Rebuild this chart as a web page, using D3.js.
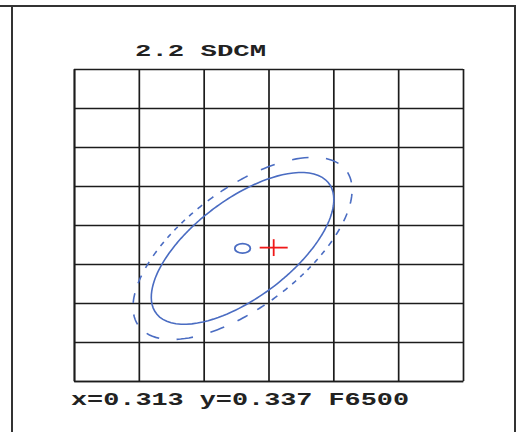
<!DOCTYPE html>
<html>
<head>
<meta charset="utf-8">
<script src="https://cdn.jsdelivr.net/npm/d3@7"></script>
<style>
  body { margin: 0; background: #fff; }
  svg { display: block; }
</style>
</head>
<body>
<div id="chart"></div>
<script>
// grid lines in chromaticity units (0.005 per cell)
const gridX = [0.300, 0.305, 0.310, 0.315, 0.320, 0.325, 0.330];
const gridY = [0.320, 0.325, 0.330, 0.335, 0.340, 0.345, 0.350, 0.355, 0.360];

// F6500 target and its MacAdam metric (g11, g12, g22)
const targetXY = [0.313, 0.337];
const metric = [86e4, -40e4, 45e4];
const solidSteps = [5];
const dashedSteps = [6];

// measured lamp chromaticity
const measuredXY = [0.3154, 0.3371];

const titleText = '2.2 SDCM';
const footText = 'x=0.313 y=0.337 F6500';

const width = 521;
const height = 432;
const margin = { top: 69, right: 58, bottom: 51, left: 74 };
const blue = '#4a6cc2';

const svg = d3.select('#chart')
  .append('svg')
  .attr('width', width)
  .attr('height', height);

// outer frame (top, left, right)
svg.append('path')
  .attr('d', 'M0,6H515V432M12,6V432')
  .attr('fill', 'none')
  .attr('stroke', '#333')
  .attr('stroke-width', 2);

const x = d3.scaleLinear()
  .domain(d3.extent(gridX))
  .range([margin.left, width - margin.right]);

const y = d3.scaleLinear()
  .domain(d3.extent(gridY))
  .range([height - margin.bottom, margin.top]);

const gridW = x.range()[1] - x.range()[0];
const gridH = y.range()[0] - y.range()[1];

// grid from axes with long ticks and no labels
let xGrid = (g) => {
  g.attr('transform', `translate(0,${y.range()[0]})`)
    .call(d3.axisBottom(x).tickValues(gridX).tickSize(-gridH).tickFormat('').tickSizeOuter(0));
};
let yGrid = (g) => {
  g.attr('transform', `translate(${x.range()[0]},0)`)
    .call(d3.axisLeft(y).tickValues(gridY).tickSize(-gridW).tickFormat('').tickSizeOuter(0));
};

svg.append('g').call(xGrid);
svg.append('g').call(yGrid);
svg.selectAll('.tick line, .domain')
  .attr('stroke', '#1c1c1c')
  .attr('stroke-width', 1.7);

// point on the n-step ellipse at polar angle t
let ellipsePoint = (n, t) => {
  const c = Math.cos(t), s = Math.sin(t);
  const q = metric[0] * c * c + 2 * metric[1] * c * s + metric[2] * s * s;
  const r = n / Math.sqrt(q);
  return [targetXY[0] + r * c, targetXY[1] + r * s];
};

const line = d3.line()
  .x(d => x(d[0]))
  .y(d => y(d[1]));

// solid ellipse
solidSteps.forEach(n => {
  const pts = d3.range(0, 361, 2).map(a => ellipsePoint(n, a * Math.PI / 180));
  svg.append('path')
    .attr('d', line(pts))
    .attr('fill', 'none')
    .attr('stroke', blue)
    .attr('stroke-width', 1.6);
});

// dashed ellipse: dashes are equal steps of polar angle
const dashCount = 34;
const dashPhase = 2.9;
dashedSteps.forEach(n => {
  const period = 360 / dashCount;
  d3.range(dashCount).forEach(k => {
    const a0 = dashPhase + k * period;
    const pts = d3.range(0, 5).map(j => ellipsePoint(n, (a0 + j * period / 8.5) * Math.PI / 180));
    svg.append('path')
      .attr('d', line(pts))
      .attr('fill', 'none')
      .attr('stroke', blue)
      .attr('stroke-width', 1.6);
  });
});

// target marker (small circle in data units)
const markR = 0.0006;
svg.append('ellipse')
  .attr('cx', x(targetXY[0]))
  .attr('cy', y(targetXY[1]))
  .attr('rx', x(targetXY[0] + markR) - x(targetXY[0]))
  .attr('ry', y(targetXY[1]) - y(targetXY[1] + markR))
  .attr('fill', 'none')
  .attr('stroke', blue)
  .attr('stroke-width', 1.8);

// measured point cross
const crossR = 0.00108;
svg.append('g')
  .attr('stroke', '#f01818')
  .attr('stroke-width', 1.8)
  .selectAll('line')
  .data([
    [[measuredXY[0] - crossR, measuredXY[1]], [measuredXY[0] + crossR, measuredXY[1]]],
    [[measuredXY[0], measuredXY[1] - crossR], [measuredXY[0], measuredXY[1] + crossR]],
  ])
  .join('line')
  .attr('x1', d => x(d[0][0]))
  .attr('y1', d => y(d[0][1]))
  .attr('x2', d => x(d[1][0]))
  .attr('y2', d => y(d[1][1]));

// texts, stretched wide like the original
svg.append('text')
  .attr('x', 135)
  .attr('y', 56)
  .attr('textLength', 131)
  .attr('lengthAdjust', 'spacingAndGlyphs')
  .attr('font-family', 'Liberation Mono, Courier New, monospace')
  .attr('font-weight', 'bold')
  .attr('font-size', 16)
  .attr('fill', '#222')
  .text(titleText);

svg.append('text')
  .attr('x', 71)
  .attr('y', 405)
  .attr('textLength', 338)
  .attr('lengthAdjust', 'spacingAndGlyphs')
  .attr('font-family', 'Liberation Mono, Courier New, monospace')
  .attr('font-weight', 'bold')
  .attr('font-size', 18)
  .attr('fill', '#222')
  .text(footText);
</script>
</body>
</html>
